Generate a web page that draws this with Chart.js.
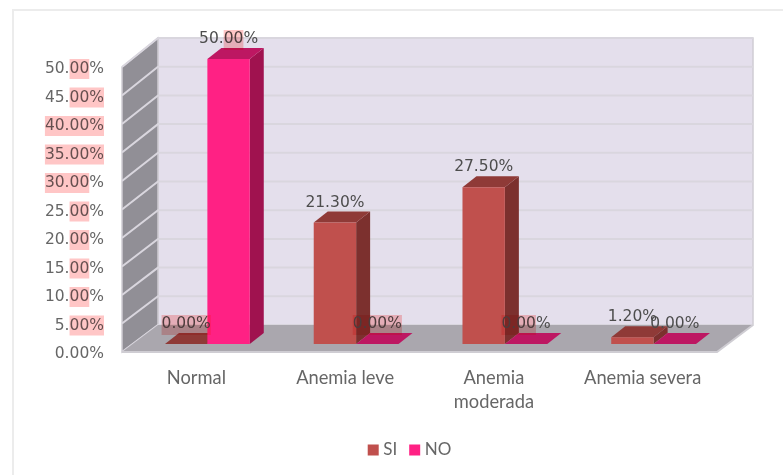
<!DOCTYPE html>
<html>
<head>
<meta charset="utf-8">
<style>
  html, body { margin: 0; background: #fff; }
  canvas { display: block; }
</style>
<script src="https://cdn.jsdelivr.net/npm/chart.js@4"></script>
</head>
<body>
<canvas id="anemiaChart" width="783" height="475"></canvas>
<script>
const categories = ["Normal", "Anemia leve", ["Anemia", "moderada"], "Anemia severa"];
const siValues = [0, 21.3, 27.5, 1.2];
const noValues = [50, 0, 0, 0];

// Character ranges of each label that carry the pink text marking
const tickMarks = { 50: [3, 5], 45: [3, 6], 40: [0, 6], 35: [0, 6], 30: [0, 5], 25: [3, 5], 20: [3, 5], 15: [3, 5], 10: [3, 5], 5: [2, 5] };
const siMarks = [[0, 5], null, null, null];
const noMarks = [[3, 5], [0, 5], [0, 4], null];

const numberFont = '"DejaVu Sans"';
const textFont = "Lato";
const markColor = "#ffc6c6";

// Depth of the box and of the bars
const boxDx = 36;
const boxDyBottom = 27;
const boxDyTop = 29;
const barOffsetX = 11;
const barOffsetY = -8;
const barDepthX = 14;
const barDepthY = -11;

const faceColors = [
  { side: "#7c302e", top: "#8f3a37" },
  { side: "#a0124f", top: "#bd1762" },
];

function polygon(ctx, points, fill, stroke) {
  ctx.beginPath();
  points.forEach((p, i) => (i ? ctx.lineTo(p[0], p[1]) : ctx.moveTo(p[0], p[1])));
  ctx.closePath();
  ctx.fillStyle = fill;
  ctx.fill();
  if (stroke) {
    ctx.strokeStyle = stroke;
    ctx.lineWidth = 1.5;
    ctx.stroke();
  }
}

// Back wall, side wall and floor
function drawBox(chart) {
  const { ctx, chartArea: area, scales } = chart;
  const yScale = scales.y;
  const max = yScale.max;
  const backY = (v) => yScale.getPixelForValue(v) - boxDyBottom - ((boxDyTop - boxDyBottom) * v) / max;
  const y0 = yScale.getPixelForValue(0);
  const yTop = yScale.getPixelForValue(max);

  polygon(ctx, [[area.left + boxDx, backY(max)], [area.right + boxDx, backY(max)], [area.right + boxDx, backY(0)], [area.left + boxDx, backY(0)]], "#e4dfec", "#cfcdd3");
  polygon(ctx, [[area.left, y0], [area.left + boxDx, backY(0)], [area.left + boxDx, backY(max)], [area.left, yTop]], "#918f96", "#cfcdd3");

  yScale.ticks.forEach((tick) => {
    const fy = yScale.getPixelForValue(tick.value);
    const by = backY(tick.value);
    ctx.lineWidth = 2;
    ctx.strokeStyle = "#d9d6de";
    ctx.beginPath();
    ctx.moveTo(area.left, fy);
    ctx.lineTo(area.left + boxDx, by);
    ctx.lineTo(area.right + boxDx, by);
    ctx.stroke();
  });

  polygon(ctx, [[area.left, y0], [area.right, y0], [area.right + boxDx, backY(0)], [area.left + boxDx, backY(0)]], "#aaa7ae", null);
  ctx.strokeStyle = "#cfcdd3";
  ctx.lineWidth = 2;
  ctx.beginPath();
  ctx.moveTo(area.left, y0);
  ctx.lineTo(area.right, y0);
  ctx.lineTo(area.right + boxDx, backY(0));
  ctx.stroke();
}

// Side and top faces of the bars, taken from the bar elements
function drawBarFaces(chart) {
  const ctx = chart.ctx;
  chart.data.datasets.forEach((dataset, i) => {
    chart.getDatasetMeta(i).data.forEach((bar) => {
      const right = bar.x + bar.width / 2 + barOffsetX;
      const left = bar.x - bar.width / 2 + barOffsetX;
      const top = bar.y + barOffsetY;
      const base = bar.base + barOffsetY;
      polygon(ctx, [[right, base], [right + barDepthX, base + barDepthY], [right + barDepthX, top + barDepthY], [right, top]], faceColors[i].side, null);
      polygon(ctx, [[left, top], [right, top], [right + barDepthX, top + barDepthY], [left + barDepthX, top + barDepthY]], faceColors[i].top, null);
    });
  });
}

// Multiplied over whatever is already there, text included
function markText(ctx, text, range, right, y) {
  const full = ctx.measureText(text).width;
  const start = right - full + ctx.measureText(text.slice(0, range[0])).width;
  const end = right - full + ctx.measureText(text.slice(0, range[1])).width;
  ctx.save();
  ctx.globalCompositeOperation = "multiply";
  ctx.fillStyle = markColor;
  ctx.fillRect(start, y - 9, end - start, 20);
  ctx.restore();
}

const box3d = {
  id: "box3d",
  beforeDraw(chart) {
    const ctx = chart.ctx;
    ctx.save();
    ctx.strokeStyle = "#ececec";
    ctx.lineWidth = 2;
    ctx.beginPath();
    ctx.moveTo(13, 475);
    ctx.lineTo(13, 10);
    ctx.lineTo(783, 10);
    ctx.stroke();
    ctx.restore();
  },
  afterLayout(chart) {
    // Legend sits right of the canvas centre and just below the labels
    const legend = chart.legend;
    const h = legend.bottom - legend.top;
    legend.left = 0;
    legend.right = 823;
    legend.top = 447 - h / 2;
    legend.bottom = legend.top + h;
  },
  beforeDatasetsDraw(chart) {
    const ctx = chart.ctx;
    drawBox(chart);
    drawBarFaces(chart);
    ctx.save();
    ctx.translate(barOffsetX, barOffsetY);
  },
  afterDatasetsDraw(chart) {
    chart.ctx.restore();
  },
  afterDraw(chart) {
    const ctx = chart.ctx;
    ctx.save();
    ctx.font = "15.5px " + numberFont;
    ctx.textBaseline = "middle";

    // Value labels above each bar
    const marks = [siMarks, noMarks];
    chart.data.datasets.forEach((dataset, i) => {
      chart.getDatasetMeta(i).data.forEach((bar, j) => {
        const text = dataset.data[j].toFixed(2) + "%";
        const x = bar.x + barOffsetX;
        const y = bar.y + barOffsetY - 20;
        ctx.textAlign = "center";
        ctx.fillStyle = "#4d4d4d";
        ctx.fillText(text, x, y);
        if (marks[i][j]) {
          markText(ctx, text, marks[i][j], x + ctx.measureText(text).width / 2, y);
        }
      });
    });

    // Marking over the axis labels
    const yScale = chart.scales.y;
    yScale.ticks.forEach((tick) => {
      const range = tickMarks[tick.value];
      if (range) {
        markText(ctx, tick.value.toFixed(2) + "%", range, 104, yScale.getPixelForValue(tick.value) + 1);
      }
    });
    ctx.restore();
  },
};

new Chart(document.getElementById("anemiaChart"), {
  type: "bar",
  data: {
    labels: categories,
    datasets: [
      { label: "SI", data: siValues, backgroundColor: "#c0504d" },
      { label: "NO", data: noValues, backgroundColor: "#ff2184" },
    ],
  },
  options: {
    responsive: false,
    animation: false,
    layout: { padding: { top: 67, right: 66, bottom: 0, left: 0 } },
    datasets: { bar: { categoryPercentage: 0.57, barPercentage: 1 } },
    plugins: {
      tooltip: { enabled: false },
      legend: {
        position: "bottom",
        labels: {
          // Narrow layout box keeps the square close to its text
          usePointStyle: true,
          pointStyle: "rect",
          boxWidth: 3,
          boxHeight: 11,
          padding: 16,
          color: "#666",
          font: { family: textFont, size: 17 },
        },
      },
    },
    scales: {
      x: {
        grid: { display: false },
        border: { display: false },
        afterFit(scale) {
          scale.height = 80;
        },
        ticks: {
          color: "#666",
          padding: 6,
          maxRotation: 0,
          font: { family: textFont, size: 18.3, lineHeight: 1.3 },
        },
      },
      y: {
        min: 0,
        max: 50,
        grid: { display: false },
        border: { display: false },
        afterFit(scale) {
          scale.width = 122;
        },
        ticks: {
          stepSize: 5,
          color: "#666",
          padding: 10,
          labelOffset: 2,
          font: { family: numberFont, size: 15.5 },
          callback: (value) => value.toFixed(2) + "%",
        },
      },
    },
  },
  plugins: [box3d],
});
</script>
</body>
</html>
